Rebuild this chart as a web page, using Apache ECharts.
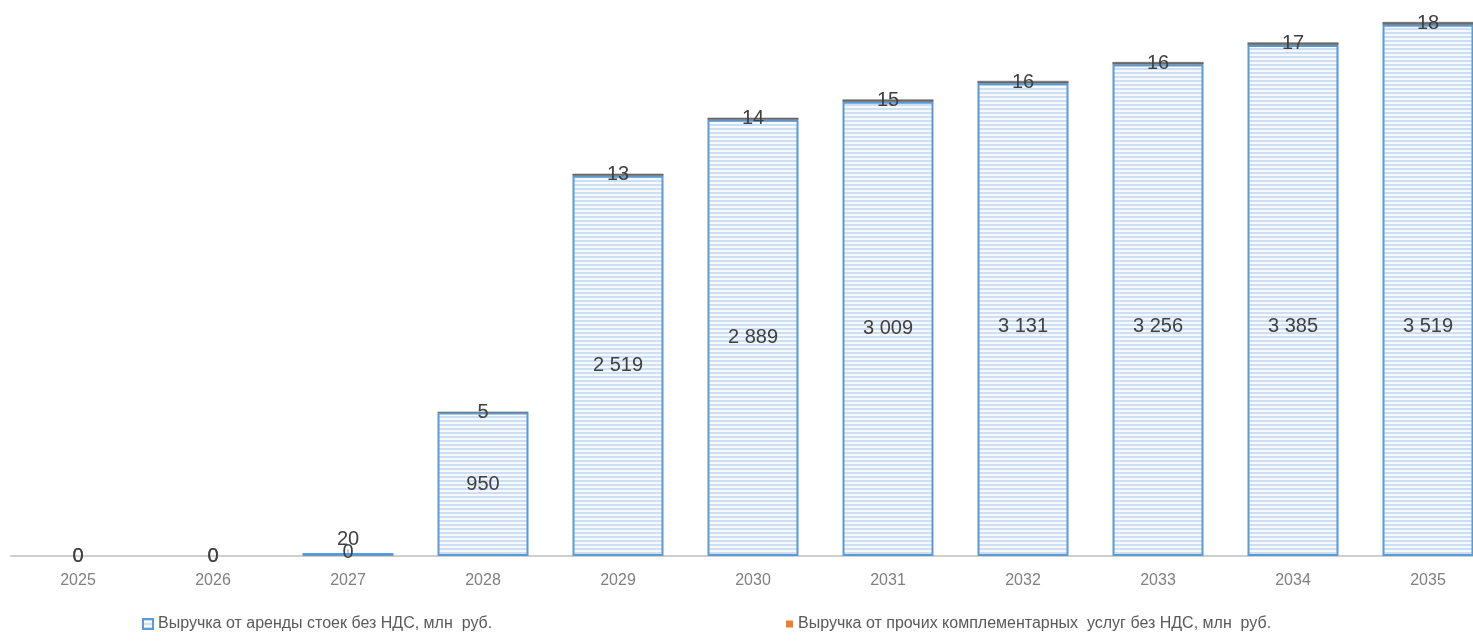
<!DOCTYPE html>
<html>
<head>
<meta charset="utf-8">
<script src="https://cdn.jsdelivr.net/npm/echarts@6/dist/echarts.min.js"></script>
<style>
  html, body { margin: 0; padding: 0; background: #ffffff; }
  #chart { width: 1473px; height: 641px; }
</style>
</head>
<body>
<div id="chart"></div>
<script>
// Years on the category axis
const years = ['2025', '2026', '2027', '2028', '2029', '2030', '2031', '2032', '2033', '2034', '2035'];
// Rack rental revenue excl. VAT, mln RUB
const rentRevenue = [0, 0, 20, 950, 2519, 2889, 3009, 3131, 3256, 3385, 3519];
// Other complementary services revenue excl. VAT, mln RUB
const otherRevenue = [0, 0, 0, 5, 13, 14, 15, 16, 16, 17, 18];

const rentName = 'Выручка от аренды стоек без НДС, млн  руб.';
const otherName = 'Выручка от прочих комплементарных  услуг без НДС, млн  руб.';

const FONT = 'Liberation Sans, Arial, sans-serif';

// Horizontal stripe fill for the rental bars
function stripePattern() {
  const c = document.createElement('canvas');
  c.width = 8; c.height = 4;
  const ctx = c.getContext('2d');
  ctx.fillStyle = '#f7fafd';
  ctx.fillRect(0, 0, 8, 4);
  ctx.fillStyle = '#cddff1';
  ctx.fillRect(0, 0, 8, 2);
  return c;
}

function fmt(v) {
  return String(v).replace(/\B(?=(\d{3})+(?!\d))/g, ' ');
}

// zero-height bars stay invisible; only their labels are drawn
function hideZero(values) {
  return values.map(function (v) {
    return v === 0 ? { value: v, itemStyle: { color: 'transparent', borderWidth: 0 } } : { value: v };
  });
}

const chart = echarts.init(document.getElementById('chart'), null, { renderer: 'canvas' });

chart.setOption({
  animation: false,
  backgroundColor: '#ffffff',
  // the plot runs slightly past the right edge of the canvas
  grid: { left: 10.5, width: 1485, top: 0, bottom: 85, containLabel: false, outerBoundsMode: 'none' },
  xAxis: {
    type: 'category',
    data: years,
    axisTick: { show: false },
    axisLine: { lineStyle: { color: '#c0c0c0', width: 1.5 } },
    axisLabel: { color: '#808080', fontSize: 16, fontFamily: FONT, margin: 17 }
  },
  yAxis: {
    type: 'value',
    min: 0,
    max: 3683,
    show: false,
    splitLine: { show: false }
  },
  legend: [
    {
      data: [rentName],
      left: 137,
      bottom: 4,
      itemWidth: 10,
      itemHeight: 10,
      itemGap: 6,
      icon: 'rect',
      textStyle: { color: '#595959', fontSize: 16, fontFamily: FONT }
    },
    {
      data: [{ name: otherName, itemStyle: { color: '#ed7d31', borderWidth: 0 } }],
      left: 781,
      bottom: 4,
      itemWidth: 7,
      itemHeight: 7,
      itemGap: 6,
      icon: 'rect',
      textStyle: { color: '#595959', fontSize: 16, fontFamily: FONT }
    }
  ],
  series: [
    {
      name: rentName,
      type: 'bar',
      stack: 'revenue',
      barWidth: '67.4%',
      data: hideZero(rentRevenue),
      itemStyle: {
        color: { image: stripePattern(), repeat: 'repeat' },
        borderColor: '#5b9bd5',
        borderWidth: 2
      },
      label: {
        show: true,
        position: 'inside',
        color: '#404040',
        fontSize: 20,
        fontFamily: FONT,
        formatter: function (p) { return fmt(p.value); }
      },
      labelLine: { show: true, lineStyle: { color: '#8c8c8c', width: 1 } },
      labelLayout: function (params) {
        const cy = params.labelRect.y + params.labelRect.height / 2;
        // small 2027 value is lifted above its bar
        if (params.dataIndex === 2) {
          return { dy: -15 };
        }
        // keep labels of tall bars from drifting too high
        if (params.dataIndex > 3 && cy < 326) {
          return { dy: 326 - cy };
        }
        return {};
      }
    },
    {
      name: otherName,
      type: 'bar',
      stack: 'revenue',
      barWidth: '67.4%',
      data: hideZero(otherRevenue),
      itemStyle: {
        color: '#6b6b6b',
        borderColor: '#595959',
        borderWidth: 0.5
      },
      label: {
        show: true,
        position: 'inside',
        color: '#404040',
        fontSize: 20,
        fontFamily: FONT,
        formatter: function (p) { return fmt(p.value); }
      }
    }
  ]
});
</script>
</body>
</html>
